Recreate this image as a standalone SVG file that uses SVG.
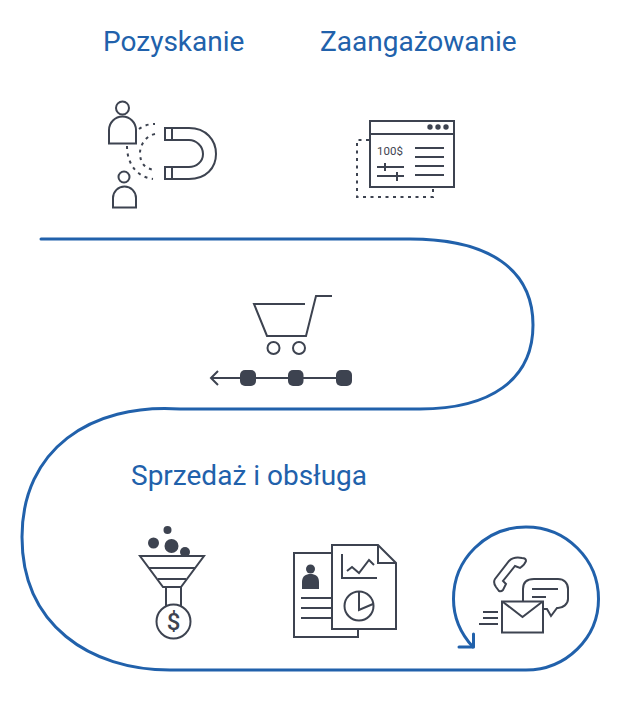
<svg xmlns="http://www.w3.org/2000/svg" width="620" height="719" viewBox="0 0 620 719">
<style>
.t{font-family:Roboto,"Liberation Sans",sans-serif;font-size:28px;fill:#2161ab}
.i{fill:none;stroke:#3d4350;stroke-width:2}
.d{fill:#3d4350;stroke:none}
.b{fill:#fff;stroke:#3d4350;stroke-width:2}
.dash{fill:none;stroke:#3d4350;stroke-width:2;stroke-dasharray:3 4.500}
.c{fill:none;stroke:#2161ab;stroke-width:3;stroke-linecap:round;stroke-linejoin:round}
</style>
<rect width="620" height="719" fill="#fff"/>
<g id="connectors">
<path class="c" d="M41 239H410C490 239 533 270 533 325C533 380 490 409 420 409H180C90 403 22 450 22 537C22 625 90 670 170 670H526C566 670 598.500 638 598.500 599C598.500 559 566 527 526 527C486 527 453.500 559 453.500 599C453.500 618 461 634 473 647"/>
<path class="c" d="M459 647H473.500V634"/>
</g>
<g id="label-pozyskanie"><text class="t" x="103" y="51">Pozyskanie</text></g>
<g id="label-zaangazowanie"><text class="t" x="320" y="51">Zaangażowanie</text></g>
<g id="label-sprzedaz"><text class="t" x="131" y="485">Sprzedaż i obsługa</text></g>
<g id="icon-magnet">
<circle class="i" cx="122.500" cy="108" r="6.500"/>
<path class="i" d="M109 143.500V130a13.500 13.500 0 0 1 27 0V143.500Z"/>
<circle class="i" cx="124" cy="177" r="5.500"/>
<path class="i" d="M113 207.500V198a11.500 11.500 0 0 1 23 0V207.500Z"/>
<path class="dash" d="M139 129C144 125 150 124 155 124"/>
<path class="dash" d="M155 134C145 136 140 146 140 153C140 164 146 169 155 170"/>
<path class="dash" d="M127 146C127 164 137 177 153 179"/>
<path class="i" d="M165 128H189C206 128 216 140 216 154C216 168 206 179 189 179H165V167H189C196 167 203 162 203 154C203 146 196 140 189 140H165Z"/>
<path class="i" d="M172 128V140M172 167V179"/>
</g>
<g id="icon-browser">
<path class="dash" d="M369 140H357V197H433V188"/>
<rect class="b" x="370" y="121" width="84" height="66"/>
<path class="i" d="M370 134H454"/>
<circle class="d" cx="430" cy="127" r="2.700"/><circle class="d" cx="438" cy="127" r="2.700"/><circle class="d" cx="446" cy="127" r="2.700"/>
<text x="377" y="155" font-family="Roboto,'Liberation Sans',sans-serif" font-size="11.500px" fill="#3d4350">100$</text>
<path class="i" d="M415 148H444M415 157H444M415 166H444M415 175H444M377 167H404M377 176H404M385 163V171M397 172V181"/>
</g>
<g id="icon-cart">
<path class="i" d="M305 304H254L267 336H306L316 296H332"/>
<circle class="i" cx="273.500" cy="348" r="6"/>
<circle class="i" cx="299" cy="348" r="6"/>
<path class="i" d="M211 378H344M218 371L211 378L218 385"/>
<rect class="d" x="240" y="370" width="16" height="16" rx="5"/>
<rect class="d" x="288" y="370" width="15.500" height="16" rx="5"/>
<rect class="d" x="336" y="370" width="16" height="16" rx="5"/>
</g>
<g id="icon-funnel">
<circle class="d" cx="167.500" cy="530" r="4"/>
<circle class="d" cx="153.500" cy="543" r="5.500"/>
<circle class="d" cx="171.500" cy="546" r="7"/>
<circle class="d" cx="185" cy="552" r="5"/>
<path class="b" d="M140 556H204L181 587H163Z"/>
<path class="i" d="M149 568H195M158 579H186"/>
<path class="i" d="M166 587V606M181 587V606"/>
<circle class="b" cx="173.500" cy="621.500" r="17"/>
<text x="173.500" y="630" text-anchor="middle" font-family="Roboto,'Liberation Sans',sans-serif" font-size="24px" font-weight="500" fill="#3d4350">$</text>
</g>
<g id="icon-documents">
<rect class="b" x="294" y="553" width="64" height="84"/>
<circle class="d" cx="310.500" cy="569" r="4.500"/>
<path class="d" d="M302 589V582C302 576 306 574 310.500 574C315 574 319 576 319 582V589Z"/>
<path class="i" d="M301 598H332M301 608H332M301 618H332"/>
<path class="b" d="M332 545H378L396 563V629H332Z"/>
<path class="i" d="M378 545V563H396"/>
<path class="i" d="M342 554V578H377"/>
<path class="i" d="M347 571L352 567L359 573L369 560L374 565"/>
<circle class="i" cx="359" cy="606" r="14.500"/>
<path class="i" d="M359 591.500V610L373 604"/>
</g>
<g id="icon-contact">
<path class="i" d="M522 558C517 557 512 558 509 561L495 579C493 582 494 584 496 587L499 591C501 592 502 591 503 590L506 584L503 581L515 566L520 568C523 566 525 564 526 561C526 559 524 558 522 558Z"/>
<path class="i" d="M523 602V589C523 582 527 579 534 579H558C564 579 568 583 568 589V599C568 604 563 608 558 608H557L551 616L547 609H535"/>
<path class="i" d="M532 589H558M532 597H546"/>
<rect class="b" x="502" y="601.500" width="41" height="31"/>
<path class="i" d="M503 602L522.500 617L542 602"/>
<path class="i" d="M483 612H498M483 618H498M479 624H498"/>
</g>
</svg>
